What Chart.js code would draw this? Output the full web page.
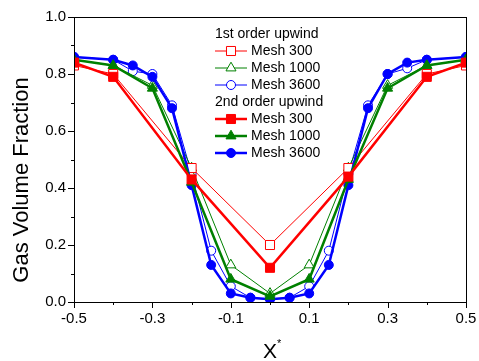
<!DOCTYPE html>
<html>
<head>
<meta charset="utf-8">
<script src="https://cdn.jsdelivr.net/npm/chart.js@4.4.1/dist/chart.umd.min.js"></script>
<style>
  html, body { margin: 0; padding: 0; background: #fff; }
  #wrap { width: 479px; height: 361px; }
</style>
</head>
<body>
<div id="wrap"><canvas id="gasChart" width="479" height="361"></canvas></div>
<script>
// x positions of the nodes for each mesh
const xMesh300 = [-0.5, -0.4, -0.2, 0, 0.2, 0.4, 0.5];
const xMesh1000 = [-0.5, -0.4, -0.3, -0.2, -0.1, 0, 0.1, 0.2, 0.3, 0.4, 0.5];
const xMesh3600 = [-0.5, -0.4, -0.35, -0.3, -0.25, -0.2, -0.15, -0.1, -0.05, 0,
  0.05, 0.1, 0.15, 0.2, 0.25, 0.3, 0.35, 0.4, 0.5];

// 1st order upwind
const first300 = [0.83, 0.80, 0.47, 0.20, 0.47, 0.80, 0.83];
const first1000 = [0.85, 0.83, 0.76, 0.47, 0.13, 0.03, 0.13, 0.47, 0.76, 0.83, 0.85];
const first3600 = [0.86, 0.85, 0.81, 0.80, 0.69, 0.45, 0.18, 0.055, 0.015, 0.01,
  0.015, 0.055, 0.18, 0.45, 0.69, 0.80, 0.82, 0.85, 0.86];

// 2nd order upwind
const second300 = [0.84, 0.79, 0.43, 0.12, 0.44, 0.79, 0.84];
const second1000 = [0.85, 0.83, 0.75, 0.42, 0.08, 0.02, 0.08, 0.43, 0.75, 0.83, 0.85];
const second3600 = [0.86, 0.85, 0.83, 0.79, 0.68, 0.41, 0.13, 0.03, 0.015, 0.01,
  0.015, 0.03, 0.13, 0.41, 0.68, 0.80, 0.84, 0.85, 0.86];

const groupNames = ["1st order upwind", "2nd order upwind"];
const meshNames = ["Mesh 300", "Mesh 1000", "Mesh 3600"];

function pts(xs, ys) {
  return xs.map((x, i) => ({ x: x, y: ys[i] }));
}

function series(label, group, xs, ys, color, shape, radius, filled) {
  return {
    label: label,
    group: group,
    data: pts(xs, ys),
    showLine: true,
    borderColor: color,
    borderWidth: filled ? 2.5 : 1,
    backgroundColor: filled ? color : "#fff",
    pointStyle: shape,
    pointRadius: radius,
    pointHoverRadius: radius,
    pointBackgroundColor: filled ? color : "#fff",
    pointBorderColor: color,
    pointBorderWidth: 1,
    order: filled ? 0 : 1,
  };
}

let chart_Data = {
  datasets: [
    series(meshNames[0], 0, xMesh300, first300, "#ff0000", "rect", 6.4, false),
    series(meshNames[1], 0, xMesh1000, first1000, "#008000", "triangle", 5.8, false),
    series(meshNames[2], 0, xMesh3600, first3600, "#0000ff", "circle", 4.5, false),
    series(meshNames[0], 1, xMesh300, second300, "#ff0000", "rect", 6.4, true),
    series(meshNames[1], 1, xMesh1000, second1000, "#008000", "triangle", 5.8, true),
    series(meshNames[2], 1, xMesh3600, second3600, "#0000ff", "circle", 4.5, true),
  ],
};

const FONT = "Arial, 'Liberation Sans', sans-serif";

// frame, tick marks, axis titles and the grouped legend
const decorPlugin = {
  id: "decor",
  afterDraw(chart) {
    const ctx = chart.ctx;
    const a = chart.chartArea;
    const xs = chart.scales.x;
    const ys = chart.scales.y;
    ctx.save();
    ctx.strokeStyle = "#000";
    ctx.lineWidth = 1;
    ctx.strokeRect(Math.round(a.left) + 0.5, Math.round(a.top) + 0.5,
      Math.round(a.right - a.left), Math.round(a.bottom - a.top));

    // ticks (outward), major every 0.2, minor in between
    ctx.beginPath();
    for (let i = -5; i <= 5; i++) {
      const px = Math.round(xs.getPixelForValue(i / 10)) + 0.5;
      const len = Math.abs(i) % 2 === 1 ? 6 : 3;
      ctx.moveTo(px, a.bottom);
      ctx.lineTo(px, a.bottom + len);
    }
    for (let i = 0; i <= 10; i++) {
      const py = Math.round(ys.getPixelForValue(i / 10)) + 0.5;
      const len = i % 2 === 0 ? 6 : 3;
      ctx.moveTo(a.left, py);
      ctx.lineTo(a.left - len, py);
    }
    ctx.stroke();

    // axis titles
    ctx.fillStyle = "#000";
    ctx.font = "22px " + FONT;
    ctx.textAlign = "center";
    ctx.textBaseline = "alphabetic";
    ctx.save();
    ctx.translate(28, 180);
    ctx.rotate(-Math.PI / 2);
    ctx.fillText("Gas Volume Fraction", 0, 0);
    ctx.restore();

    const cx = (a.left + a.right) / 2;
    ctx.font = "21px " + FONT;
    ctx.fillText("X", cx, 358);
    ctx.font = "11px " + FONT;
    ctx.textAlign = "left";
    ctx.fillText("*", cx + 7, 347);

    // legend
    const lx = 215, lineLen = 32, rowH = 17;
    let ly = 34;
    ctx.font = "14px " + FONT;
    ctx.textBaseline = "middle";
    groupNames.forEach((g, gi) => {
      ctx.fillStyle = "#000";
      ctx.textAlign = "left";
      ctx.fillText(g, lx, ly);
      ly += rowH;
      chart.data.datasets.filter((d) => d.group === gi).forEach((d) => {
        ctx.strokeStyle = d.borderColor;
        ctx.lineWidth = d.borderWidth;
        ctx.beginPath();
        ctx.moveTo(lx, ly);
        ctx.lineTo(lx + lineLen, ly);
        ctx.stroke();
        ctx.fillStyle = d.pointBackgroundColor;
        ctx.strokeStyle = d.pointBorderColor;
        ctx.lineWidth = d.pointBorderWidth;
        Chart.helpers.drawPoint(ctx, {
          pointStyle: d.pointStyle,
          radius: d.pointRadius,
          rotation: 0,
          borderWidth: d.pointBorderWidth,
        }, lx + lineLen / 2, ly);
        ctx.fillStyle = "#000";
        ctx.fillText(d.label, lx + lineLen + 4, ly);
        ly += rowH;
      });
    });
    ctx.restore();
  },
};

let options = {
  responsive: false,
  animation: false,
  layout: { padding: { top: 17, right: 13, left: 0, bottom: 0 } },
  plugins: {
    legend: { display: false },
    tooltip: { enabled: false },
    title: { display: false },
  },
  scales: {
    x: {
      type: "linear",
      min: -0.5,
      max: 0.5,
      afterFit: (s) => {
        s.height = 59;
        s.paddingLeft = 0;
        s.paddingRight = 0;
      },
      grid: { display: false, drawTicks: false },
      border: { display: true, color: "#000", width: 1 },
      ticks: {
        stepSize: 0.1,
        padding: 8,
        color: "#000",
        font: { family: FONT, size: 15 },
        maxRotation: 0,
        autoSkip: false,
        callback: (v) => {
          const k = Math.round(v * 10);
          return Math.abs(k) % 2 === 1 ? (k / 10).toFixed(1) : "";
        },
      },
    },
    y: {
      type: "linear",
      min: 0,
      max: 1,
      afterFit: (s) => {
        s.width = 74;
        s.paddingTop = 0;
        s.paddingBottom = 0;
      },
      grid: { display: false, drawTicks: false },
      border: { display: true, color: "#000", width: 1 },
      ticks: {
        stepSize: 0.1,
        padding: 8,
        color: "#000",
        font: { family: FONT, size: 15 },
        autoSkip: false,
        callback: (v) => {
          const k = Math.round(v * 10);
          return k % 2 === 0 ? (k / 10).toFixed(1) : "";
        },
      },
    },
  },
};

var ctx = document.getElementById("gasChart").getContext("2d");
var myChart = new Chart(ctx, {
  type: "scatter",
  data: chart_Data,
  options: options,
  plugins: [decorPlugin],
});
</script>
</body>
</html>
